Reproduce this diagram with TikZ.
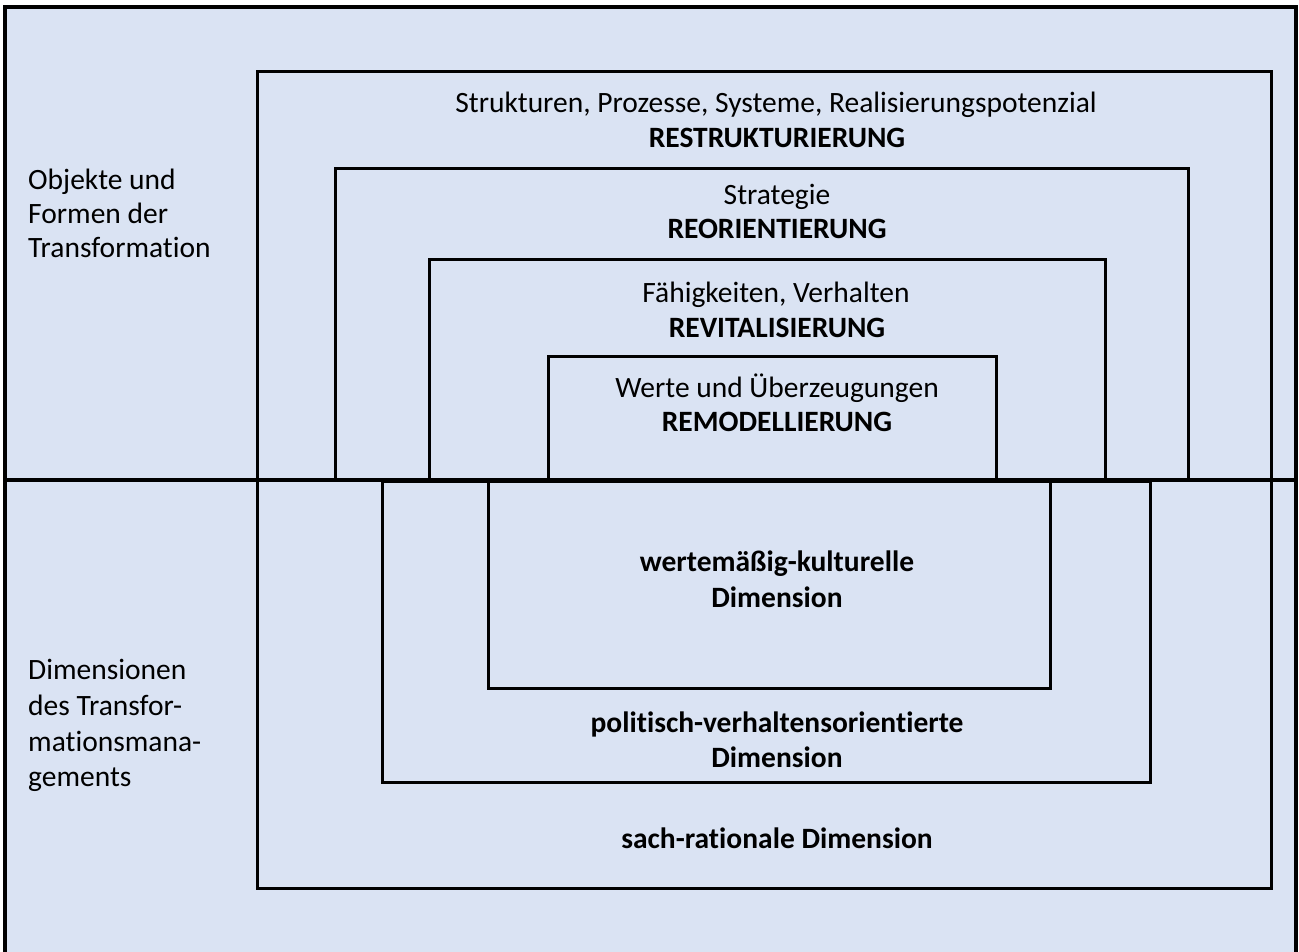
\documentclass[tikz,border=0pt]{standalone}
\usepackage{fontspec}
\setmainfont{Carlito}[Ligatures=NoCommon]
\definecolor{bgblue}{HTML}{DAE3F3}
\begin{document}
\begin{tikzpicture}[x=1pt,y=-1pt,
  boxline/.style={line width=3pt,draw=black},
  txt/.style={font=\fontsize{29.5}{34}\selectfont,anchor=base,inner sep=0pt},
  btxt/.style={font=\fontsize{29.5}{34}\selectfont\bfseries,anchor=base,inner sep=0pt},
  ltxt/.style={font=\fontsize{29.5}{34}\selectfont,anchor=base west,inner sep=0pt}]
\useasboundingbox (0,0) rectangle (1299,952);
\fill[bgblue] (5,7) rectangle (1296,952);
\draw[line width=4.5pt] (5,960) -- (5,7) -- (1296,7) -- (1296,960);
% dividing line
\draw[line width=3.5pt] (5,480) -- (1296,480);
% outer box
\draw[boxline] (257,72) rectangle (1271,888);
% upper open boxes
\draw[boxline] (335,479) -- (335,169) -- (1188,169) -- (1188,479);
\draw[boxline] (429,479) -- (429,260) -- (1105,260) -- (1105,479);
\draw[boxline] (548,479) -- (548,356) -- (996,356) -- (996,479);
% lower boxes
\draw[boxline] (382,481) rectangle (1150,782);
\draw[boxline] (488,481) rectangle (1050,688);
% texts
\node[txt] (t1) at (776,113) {Strukturen, Prozesse, Systeme, Realisierungspotenzial};
\node[btxt] (t1b) at (777,148) {RESTRUKTURIERUNG};
\node[txt] (t2) at (777,205) {Strategie};
\node[btxt] (t2b) at (777,239) {REORIENTIERUNG};
\node[txt] (t3) at (776,302) {Fähigkeiten, Verhalten};
\node[btxt] (t3b) at (777,337) {REVITALISIERUNG};
\node[txt] (t4) at (777,397) {Werte und Überzeugungen};
\node[btxt] (t4b) at (777,431) {REMODELLIERUNG};
\node[btxt] (d1) at (777,571) {wertemäßig-kulturelle};
\node[btxt] (d1b) at (777,607) {Dimension};
\node[btxt] (d2) at (777,732) {politisch-verhaltensorientierte};
\node[btxt] (d2b) at (777,767) {Dimension};
\node[btxt] (d3) at (777,848) {sach-rationale Dimension};
\node[ltxt] (l1) at (28,190) {Objekte und};
\node[ltxt] (l2) at (28,224) {Formen der};
\node[ltxt] (l3) at (28,258) {Transformation};
\node[ltxt] (m1) at (28,679) {Dimensionen};
\node[ltxt] (m2) at (28,715) {des Transfor-};
\node[ltxt] (m3) at (28,751) {mationsmana-};
\node[ltxt] (m4) at (28,786) {gements};
\end{tikzpicture}
\end{document}
